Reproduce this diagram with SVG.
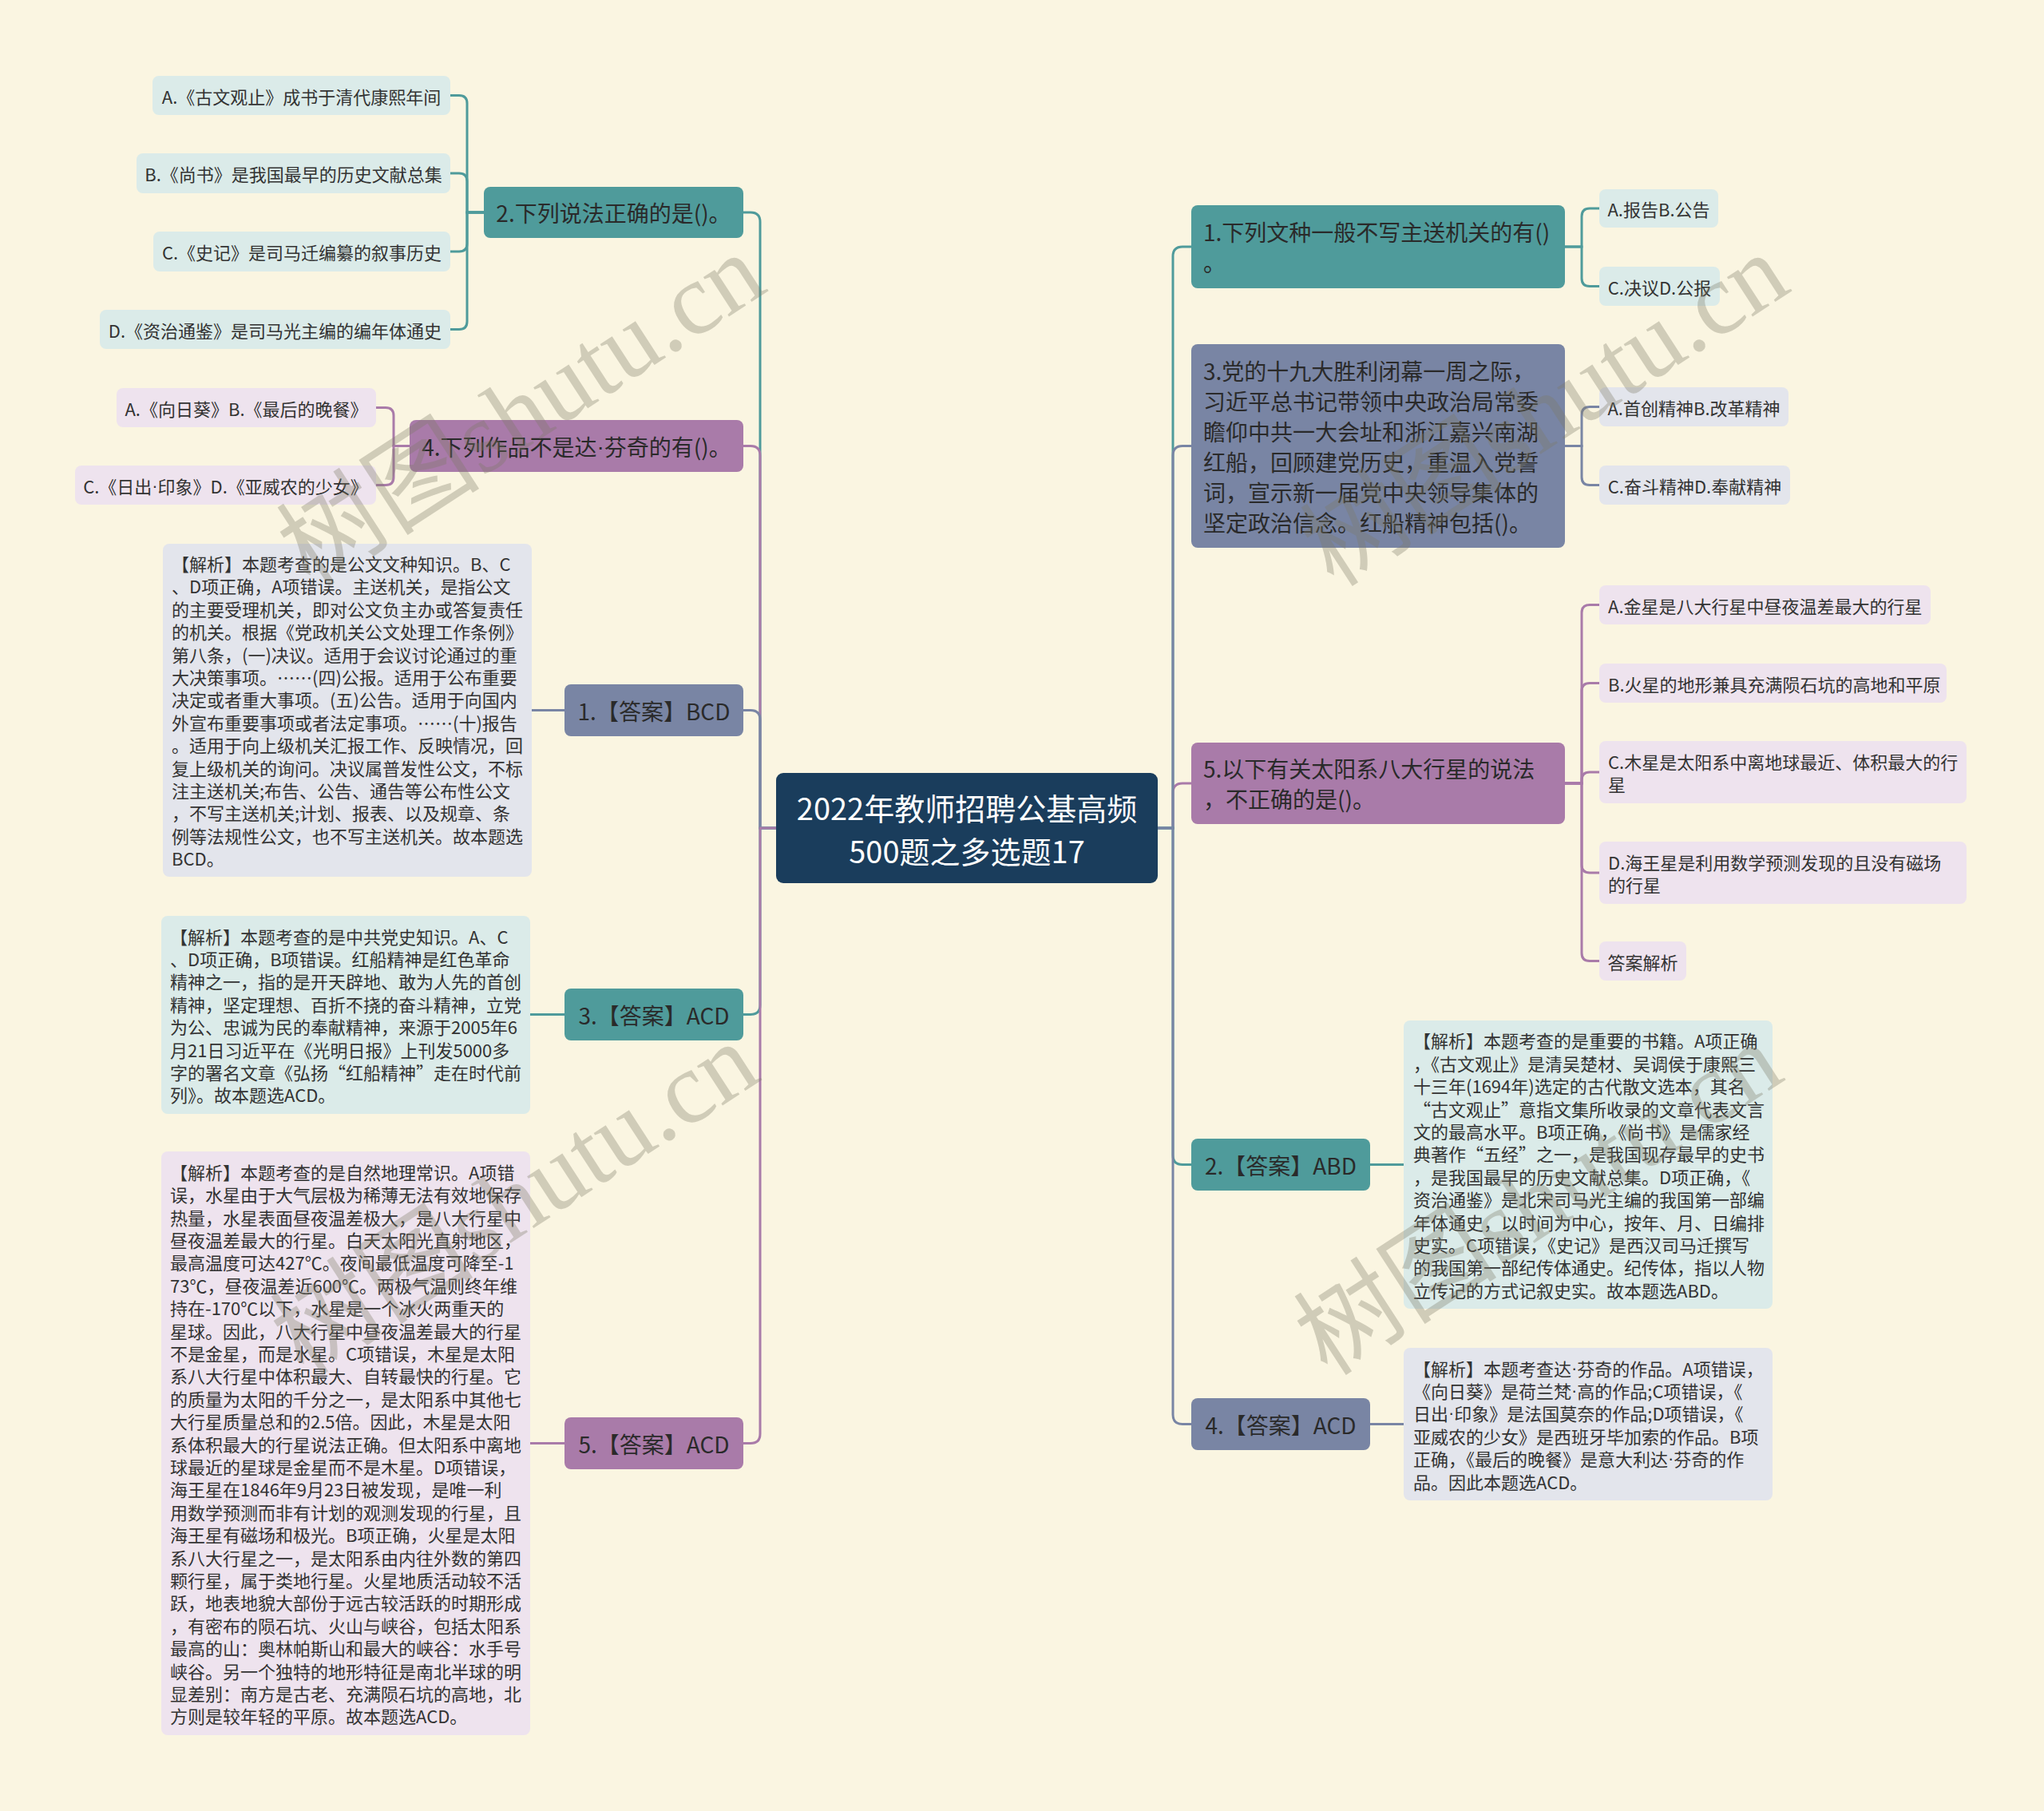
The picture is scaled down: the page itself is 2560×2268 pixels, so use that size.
<svg xmlns="http://www.w3.org/2000/svg" width="2560" height="2268" viewBox="0 0 2560 2268">
<defs>
<style>
text{font-family:"Noto Sans CJK SC","Noto Sans",sans-serif;dominant-baseline:central}
.dot{font-family:"Liberation Sans",sans-serif}
.nt{fill:#4F9B9B}.np{fill:#A97BA9}.ns{fill:#7985A4}
.lt{fill:#DBEBE9}.lp{fill:#EEE3EE}.ls{fill:#E3E5EC}
.t1{font-size:28px;fill:#2a2a2a}
.t1m{font-size:28px;fill:#2a2a2a;text-anchor:middle}
.t2{font-size:22px;fill:#333}
.t2m{font-size:22px;fill:#333;text-anchor:middle}
.tc{font-size:38px;fill:#ffffff;text-anchor:middle}
.ct{stroke:#4F9B9B;fill:none;stroke-width:3}
.cp{stroke:#A97BA9;fill:none;stroke-width:3}
.cs{stroke:#7985A4;fill:none;stroke-width:3}
.wm{font-family:"Liberation Serif","Noto Sans CJK SC",serif;font-size:128px;fill:#7d7a66;opacity:0.33;text-anchor:middle}
</style>
</defs>
<rect x="0" y="0" width="2560" height="2268" fill="#FAF5E1"/>

<g id="connectors">
<path class="ct" d="M972,1037 H952 V278 Q952,266 940,266 H931"/>
<path class="cp" d="M972,1037 H952 V570.5 Q952,558.5 940,558.5 H931"/>
<path class="cs" d="M972,1037 H952 V901.5 Q952,889.5 940,889.5 H931"/>
<path class="ct" d="M972,1037 H952 V1258.5 Q952,1270.5 940,1270.5 H931"/>
<path class="cp" d="M972,1037 H952 V1795.5 Q952,1807.5 940,1807.5 H931"/>
<path class="ct" d="M1450,1037 H1469 V321 Q1469,309 1481,309 H1492"/>
<path class="cp" d="M1450,1037 H1469 V993 Q1469,981 1481,981 H1492"/>
<path class="cs" d="M1450,1037 H1469 V570.5 Q1469,558.5 1481,558.5 H1492"/>
<path class="ct" d="M1450,1037 H1469 V1446.5 Q1469,1458.5 1481,1458.5 H1492"/>
<path class="cs" d="M1450,1037 H1469 V1771.5 Q1469,1783.5 1481,1783.5 H1492"/>
<path class="ct" d="M606,266 H585 V129.5 Q585,119.5 575,119.5 H564"/>
<path class="ct" d="M606,266 H585 V227 Q585,217 575,217 H564"/>
<path class="ct" d="M606,266 H585 V305 Q585,315 575,315 H564"/>
<path class="ct" d="M606,266 H585 V402.5 Q585,412.5 575,412.5 H564"/>
<path class="cp" d="M513,558.5 H493 V520.5 Q493,510.5 483,510.5 H471"/>
<path class="cp" d="M513,558.5 H493 V597.5 Q493,607.5 483,607.5 H471"/>
<path class="ct" d="M1960,309 H1981 V271 Q1981,261 1991,261 H2003"/>
<path class="ct" d="M1960,309 H1981 V348.5 Q1981,358.5 1991,358.5 H2003"/>
<path class="cs" d="M1960,558.5 H1981 V519.5 Q1981,509.5 1991,509.5 H2003"/>
<path class="cs" d="M1960,558.5 H1981 V597.5 Q1981,607.5 1991,607.5 H2003"/>
<path class="cp" d="M1960,981 H1981 V767.5 Q1981,757.5 1991,757.5 H2003"/>
<path class="cp" d="M1960,981 H1981 V865.5 Q1981,855.5 1991,855.5 H2003"/>
<path class="cp" d="M1960,981 H1981 V977 Q1981,967 1991,967 H2003"/>
<path class="cp" d="M1960,981 H1981 V1083 Q1981,1093 1991,1093 H2003"/>
<path class="cp" d="M1960,981 H1981 V1193.5 Q1981,1203.5 1991,1203.5 H2003"/>
<path class="cs" d="M707,889.5 H666"/>
<path class="ct" d="M707,1270.5 H664"/>
<path class="cp" d="M707,1807.5 H664"/>
<path class="ct" d="M1716,1458.5 H1758"/>
<path class="cs" d="M1716,1783.5 H1758"/>
</g>

<g id="center">
<rect x="972" y="968" width="478" height="138" rx="9" fill="#1A3D5C"/>
<text class="tc" x="1211" y="1010">2022年教师招聘公基高频</text>
<text class="tc" x="1211" y="1064">500题之多选题17</text>
</g>

<g id="node-L2">
<rect class="nt" x="606" y="234" width="325" height="64" rx="8"/>
<text class="t1m" x="768.5" y="266">2.下列说法正确的是()。</text>
</g>
<g id="node-L2A"><rect class="lt" x="191" y="95" width="373" height="49" rx="8"/><text class="t2m" x="377.5" y="119.5">A.《古文观止》成书于清代康熙年间</text></g>
<g id="node-L2B"><rect class="lt" x="171" y="192" width="393" height="50" rx="8"/><text class="t2m" x="367.5" y="217">B.《尚书》是我国最早的历史文献总集</text></g>
<g id="node-L2C"><rect class="lt" x="192" y="290" width="372" height="50" rx="8"/><text class="t2m" x="378" y="315">C.《史记》是司马迁编纂的叙事历史</text></g>
<g id="node-L2D"><rect class="lt" x="125" y="388" width="439" height="49" rx="8"/><text class="t2m" x="344.5" y="412.5">D.《资治通鉴》是司马光主编的编年体通史</text></g>

<g id="node-L4">
<rect class="np" x="513" y="526" width="418" height="65" rx="8"/>
<text class="t1m" x="722" y="558.5">4.下列作品不是达<tspan class="dot">·</tspan>芬奇的有()。</text>
</g>
<g id="node-L4A"><rect class="lp" x="146" y="486" width="325" height="49" rx="8"/><text class="t2m" x="308.5" y="510.5">A.《向日葵》B.《最后的晚餐》</text></g>
<g id="node-L4C"><rect class="lp" x="94" y="583" width="377" height="49" rx="8"/><text class="t2m" x="282.5" y="607.5">C.《日出<tspan class="dot">·</tspan>印象》D.《亚威农的少女》</text></g>

<g id="node-L1">
<rect class="ns" x="707" y="857" width="224" height="65" rx="8"/>
<text class="t1m" x="819" y="889.5">1.【答案】BCD</text>
</g>
<g id="node-L1-analysis">
<rect class="ls" x="204" y="681" width="462" height="417" rx="8"/>
<text class="t2">
<tspan x="215" y="705">【解析】本题考查的是公文文种知识。B、C</tspan>
<tspan x="215" y="733.4">、D项正确，A项错误。主送机关，是指公文</tspan>
<tspan x="215" y="761.8">的主要受理机关，即对公文负主办或答复责任</tspan>
<tspan x="215" y="790.2">的机关。根据《党政机关公文处理工作条例》</tspan>
<tspan x="215" y="818.6">第八条，(一)决议。适用于会议讨论通过的重</tspan>
<tspan x="215" y="847">大决策事项。……(四)公报。适用于公布重要</tspan>
<tspan x="215" y="875.4">决定或者重大事项。(五)公告。适用于向国内</tspan>
<tspan x="215" y="903.8">外宣布重要事项或者法定事项。……(十)报告</tspan>
<tspan x="215" y="932.2">。适用于向上级机关汇报工作、反映情况，回</tspan>
<tspan x="215" y="960.6">复上级机关的询问。决议属普发性公文，不标</tspan>
<tspan x="215" y="989">注主送机关;布告、公告、通告等公布性公文</tspan>
<tspan x="215" y="1017.4">，不写主送机关;计划、报表、以及规章、条</tspan>
<tspan x="215" y="1045.8">例等法规性公文，也不写主送机关。故本题选</tspan>
<tspan x="215" y="1074.2">BCD。</tspan>
</text>
</g>

<g id="node-L3">
<rect class="nt" x="707" y="1238" width="224" height="65" rx="8"/>
<text class="t1m" x="819" y="1270.5">3.【答案】ACD</text>
</g>
<g id="node-L3-analysis">
<rect class="lt" x="202" y="1147" width="462" height="248" rx="8"/>
<text class="t2">
<tspan x="213" y="1171.6">【解析】本题考查的是中共党史知识。A、C</tspan>
<tspan x="213" y="1200">、D项正确，B项错误。红船精神是红色革命</tspan>
<tspan x="213" y="1228.4">精神之一，指的是开天辟地、敢为人先的首创</tspan>
<tspan x="213" y="1256.8">精神，坚定理想、百折不挠的奋斗精神，立党</tspan>
<tspan x="213" y="1285.2">为公、忠诚为民的奉献精神，来源于2005年6</tspan>
<tspan x="213" y="1313.6">月21日习近平在《光明日报》上刊发5000多</tspan>
<tspan x="213" y="1342">字的署名文章《弘扬“红船精神”走在时代前</tspan>
<tspan x="213" y="1370.4">列》。故本题选ACD。</tspan>
</text>
</g>

<g id="node-L5">
<rect class="np" x="707" y="1775" width="224" height="65" rx="8"/>
<text class="t1m" x="819" y="1807.5">5.【答案】ACD</text>
</g>
<g id="node-L5-analysis">
<rect class="lp" x="202" y="1442" width="462" height="731" rx="8"/>
<text class="t2">
<tspan x="213" y="1466.7">【解析】本题考查的是自然地理常识。A项错</tspan>
<tspan x="213" y="1495.1">误，水星由于大气层极为稀薄无法有效地保存</tspan>
<tspan x="213" y="1523.5">热量，水星表面昼夜温差极大，是八大行星中</tspan>
<tspan x="213" y="1551.9">昼夜温差最大的行星。白天太阳光直射地区，</tspan>
<tspan x="213" y="1580.3">最高温度可达427℃。夜间最低温度可降至-1</tspan>
<tspan x="213" y="1608.7">73℃，昼夜温差近600℃。两极气温则终年维</tspan>
<tspan x="213" y="1637.1">持在-170℃以下，水星是一个冰火两重天的</tspan>
<tspan x="213" y="1665.5">星球。因此，八大行星中昼夜温差最大的行星</tspan>
<tspan x="213" y="1693.9">不是金星，而是水星。C项错误，木星是太阳</tspan>
<tspan x="213" y="1722.3">系八大行星中体积最大、自转最快的行星。它</tspan>
<tspan x="213" y="1750.7">的质量为太阳的千分之一，是太阳系中其他七</tspan>
<tspan x="213" y="1779.1">大行星质量总和的2.5倍。因此，木星是太阳</tspan>
<tspan x="213" y="1807.5">系体积最大的行星说法正确。但太阳系中离地</tspan>
<tspan x="213" y="1835.9">球最近的星球是金星而不是木星。D项错误，</tspan>
<tspan x="213" y="1864.3">海王星在1846年9月23日被发现，是唯一利</tspan>
<tspan x="213" y="1892.7">用数学预测而非有计划的观测发现的行星，且</tspan>
<tspan x="213" y="1921.1">海王星有磁场和极光。B项正确，火星是太阳</tspan>
<tspan x="213" y="1949.5">系八大行星之一，是太阳系由内往外数的第四</tspan>
<tspan x="213" y="1977.9">颗行星，属于类地行星。火星地质活动较不活</tspan>
<tspan x="213" y="2006.3">跃，地表地貌大部份于远古较活跃的时期形成</tspan>
<tspan x="213" y="2034.7">，有密布的陨石坑、火山与峡谷，包括太阳系</tspan>
<tspan x="213" y="2063.1">最高的山：奥林帕斯山和最大的峡谷：水手号</tspan>
<tspan x="213" y="2091.5">峡谷。另一个独特的地形特征是南北半球的明</tspan>
<tspan x="213" y="2119.9">显差别：南方是古老、充满陨石坑的高地，北</tspan>
<tspan x="213" y="2148.3">方则是较年轻的平原。故本题选ACD。</tspan>
</text>
</g>

<g id="node-R1">
<rect class="nt" x="1492" y="257" width="468" height="104" rx="8"/>
<text class="t1"><tspan x="1507" y="290">1.下列文种一般不写主送机关的有()</tspan><tspan x="1507" y="328">。</tspan></text>
</g>
<g id="node-R1A"><rect class="lt" x="2003" y="237" width="149" height="48" rx="8"/><text class="t2m" x="2077.5" y="261">A.报告B.公告</text></g>
<g id="node-R1C"><rect class="lt" x="2003" y="334" width="151" height="49" rx="8"/><text class="t2m" x="2078.5" y="358.5">C.决议D.公报</text></g>

<g id="node-R3">
<rect class="ns" x="1492" y="431" width="468" height="255" rx="8"/>
<text class="t1">
<tspan x="1507" y="463.5">3.党的十九大胜利闭幕一周之际，</tspan>
<tspan x="1507" y="501.5">习近平总书记带领中央政治局常委</tspan>
<tspan x="1507" y="539.5">瞻仰中共一大会址和浙江嘉兴南湖</tspan>
<tspan x="1507" y="577.5">红船，回顾建党历史，重温入党誓</tspan>
<tspan x="1507" y="615.5">词，宣示新一届党中央领导集体的</tspan>
<tspan x="1507" y="653.5">坚定政治信念。红船精神包括()。</tspan>
</text>
</g>
<g id="node-R3A"><rect class="ls" x="2003" y="485" width="237" height="49" rx="8"/><text class="t2m" x="2121.5" y="509.5">A.首创精神B.改革精神</text></g>
<g id="node-R3C"><rect class="ls" x="2003" y="583" width="239" height="49" rx="8"/><text class="t2m" x="2122.5" y="607.5">C.奋斗精神D.奉献精神</text></g>

<g id="node-R5">
<rect class="np" x="1492" y="930" width="468" height="102" rx="8"/>
<text class="t1"><tspan x="1507" y="962">5.以下有关太阳系八大行星的说法</tspan><tspan x="1507" y="1000">，不正确的是()。</tspan></text>
</g>
<g id="node-R5A"><rect class="lp" x="2003" y="733" width="415" height="49" rx="8"/><text class="t2" x="2014" y="757.5">A.金星是八大行星中昼夜温差最大的行星</text></g>
<g id="node-R5B"><rect class="lp" x="2003" y="831" width="435" height="49" rx="8"/><text class="t2" x="2014" y="855.5">B.火星的地形兼具充满陨石坑的高地和平原</text></g>
<g id="node-R5C"><rect class="lp" x="2003" y="928" width="460" height="78" rx="8"/><text class="t2"><tspan x="2014" y="953">C.木星是太阳系中离地球最近、体积最大的行</tspan><tspan x="2014" y="981">星</tspan></text></g>
<g id="node-R5D"><rect class="lp" x="2003" y="1054" width="460" height="78" rx="8"/><text class="t2"><tspan x="2014" y="1079">D.海王星是利用数学预测发现的且没有磁场</tspan><tspan x="2014" y="1107">的行星</tspan></text></g>
<g id="node-R5E"><rect class="lp" x="2003" y="1179" width="109" height="49" rx="8"/><text class="t2m" x="2057.5" y="1203.5">答案解析</text></g>

<g id="node-R2">
<rect class="nt" x="1492" y="1426" width="224" height="65" rx="8"/>
<text class="t1m" x="1604" y="1458.5">2.【答案】ABD</text>
</g>
<g id="node-R2-analysis">
<rect class="lt" x="1758" y="1278" width="462" height="361" rx="8"/>
<text class="t2">
<tspan x="1770" y="1302.3">【解析】本题考查的是重要的书籍。A项正确</tspan>
<tspan x="1770" y="1330.7">，《古文观止》是清吴楚材、吴调侯于康熙三</tspan>
<tspan x="1770" y="1359.1">十三年(1694年)选定的古代散文选本，其名</tspan>
<tspan x="1770" y="1387.5">“古文观止”意指文集所收录的文章代表文言</tspan>
<tspan x="1770" y="1415.9">文的最高水平。B项正确，《尚书》是儒家经</tspan>
<tspan x="1770" y="1444.3">典著作“五经”之一，是我国现存最早的史书</tspan>
<tspan x="1770" y="1472.7">，是我国最早的历史文献总集。D项正确，《</tspan>
<tspan x="1770" y="1501.1">资治通鉴》是北宋司马光主编的我国第一部编</tspan>
<tspan x="1770" y="1529.5">年体通史，以时间为中心，按年、月、日编排</tspan>
<tspan x="1770" y="1557.9">史实。C项错误，《史记》是西汉司马迁撰写</tspan>
<tspan x="1770" y="1586.3">的我国第一部纪传体通史。纪传体，指以人物</tspan>
<tspan x="1770" y="1614.7">立传记的方式记叙史实。故本题选ABD。</tspan>
</text>
</g>

<g id="node-R4">
<rect class="ns" x="1492" y="1751" width="224" height="65" rx="8"/>
<text class="t1m" x="1604" y="1783.5">4.【答案】ACD</text>
</g>
<g id="node-R4-analysis">
<rect class="ls" x="1758" y="1688" width="462" height="191" rx="8"/>
<text class="t2">
<tspan x="1770" y="1712.5">【解析】本题考查达<tspan class="dot">·</tspan>芬奇的作品。A项错误，</tspan>
<tspan x="1770" y="1740.9">《向日葵》是荷兰梵<tspan class="dot">·</tspan>高的作品;C项错误，《</tspan>
<tspan x="1770" y="1769.3">日出<tspan class="dot">·</tspan>印象》是法国莫奈的作品;D项错误，《</tspan>
<tspan x="1770" y="1797.7">亚威农的少女》是西班牙毕加索的作品。B项</tspan>
<tspan x="1770" y="1826.1">正确，《最后的晚餐》是意大利达<tspan class="dot">·</tspan>芬奇的作</tspan>
<tspan x="1770" y="1854.5">品。因此本题选ACD。</tspan>
</text>
</g>

<g id="watermarks">
<text class="wm" x="653" y="514" transform="rotate(-33 653 514)">树图shutu.cn</text>
<text class="wm" x="1935" y="514" transform="rotate(-33 1935 514)">树图shutu.cn</text>
<text class="wm" x="645" y="1502" transform="rotate(-33 645 1502)">树图shutu.cn</text>
<text class="wm" x="1927" y="1502" transform="rotate(-33 1927 1502)">树图shutu.cn</text>
</g>
</svg>
